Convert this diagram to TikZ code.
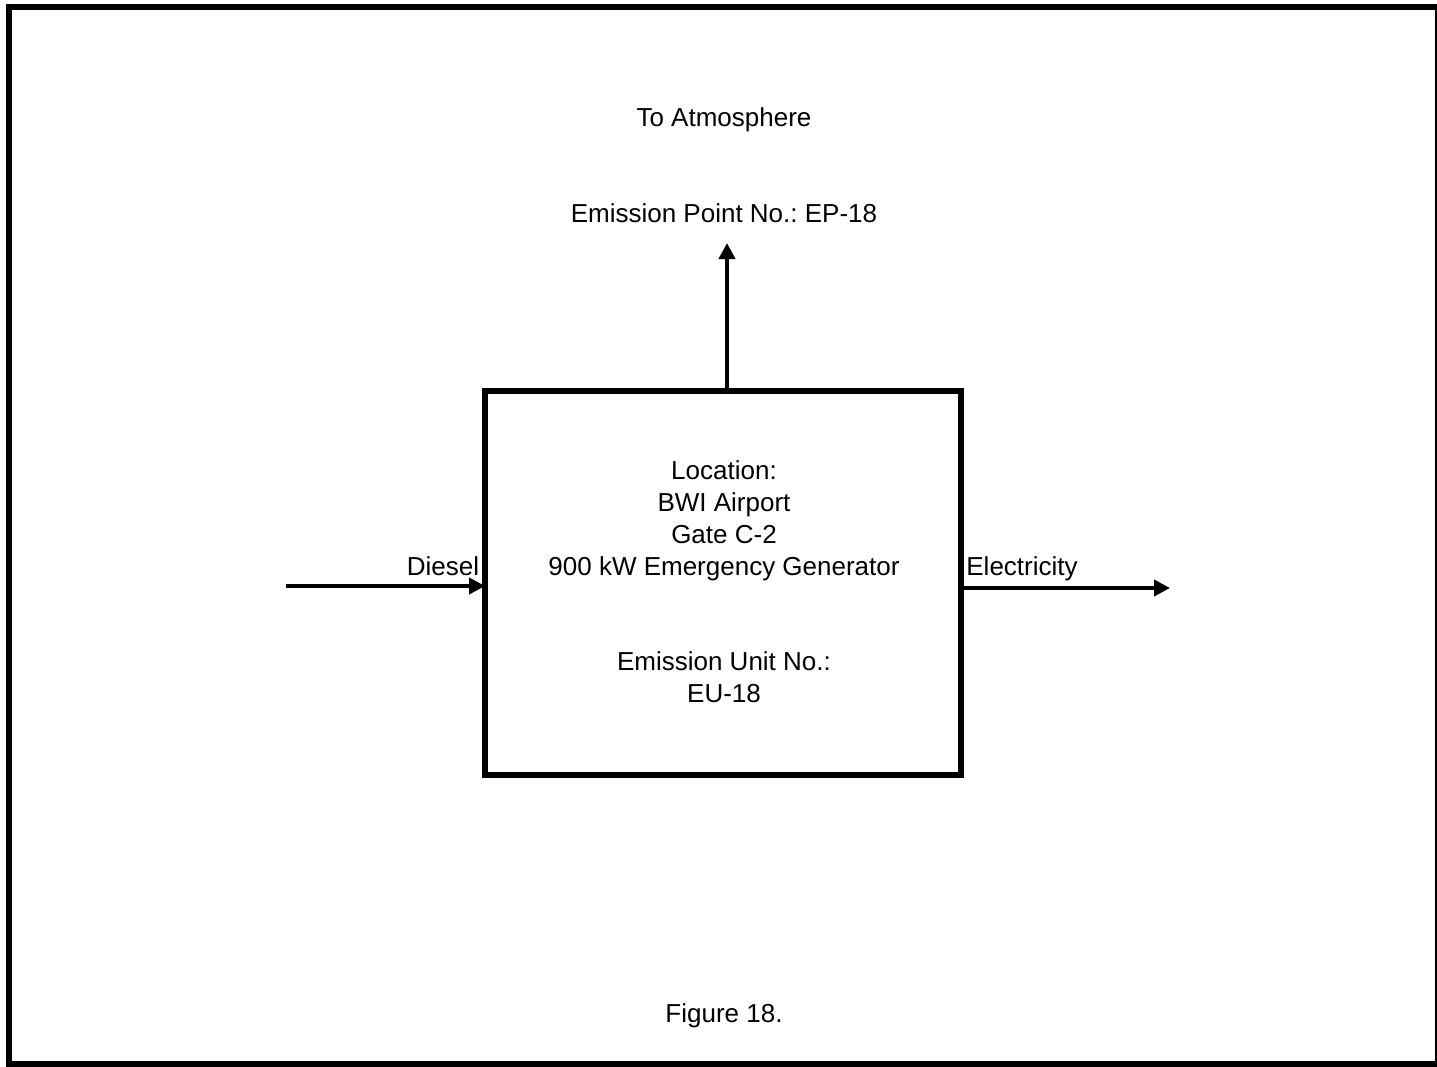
\documentclass[tikz,border=0pt]{standalone}
\usepackage{fontspec}
\setmainfont{Liberation Sans}
\frenchspacing
\usetikzlibrary{arrows.meta}
\begin{document}
\begin{tikzpicture}[x=1pt,y=-1pt,
  lbl/.style={inner sep=0pt,outer sep=0pt,anchor=base,font=\fontsize{26}{32}\selectfont},
  arr/.style={line width=4.5pt,-{Triangle[length=16pt,width=16pt]}}]
\useasboundingbox (0,0) rectangle (1437,1066);
\draw[line width=6pt] (9,7) rectangle (1438,1064);
\node[draw,line width=5.5pt,minimum width=476pt,minimum height=384pt,inner sep=0pt,outer sep=0pt] (box) at (723,583) {};
\node[lbl] (atm) at (724,126) {To Atmosphere};
\node[lbl] (ep) at (724,222) {Emission Point No.: EP-18};
\node[lbl] (loc1) at (724,479) {Location:};
\node[lbl] (loc2) at (724,511) {BWI Airport};
\node[lbl] (loc3) at (724,543) {Gate C-2};
\node[lbl] (loc4) at (724,575) {900 kW Emergency Generator};
\node[lbl] (eu1) at (724,670) {Emission Unit No.:};
\node[lbl] (eu2) at (724,702) {EU-18};
\node[lbl] (diesel) at (443,575) {Diesel};
\node[lbl] (elec) at (1022,575) {Electricity};
\node[lbl] (fig) at (724,1022) {Figure 18.};
\coordinate (dstart) at (286,586);
\coordinate (eend) at (1170,588);
\coordinate (uend) at (727,243);
\draw[arr] (dstart) -- (dstart -| box.west);
\draw[arr] (eend -| box.east) -- (eend);
\draw[arr] (uend |- box.north) -- (uend);
\end{tikzpicture}
\end{document}
